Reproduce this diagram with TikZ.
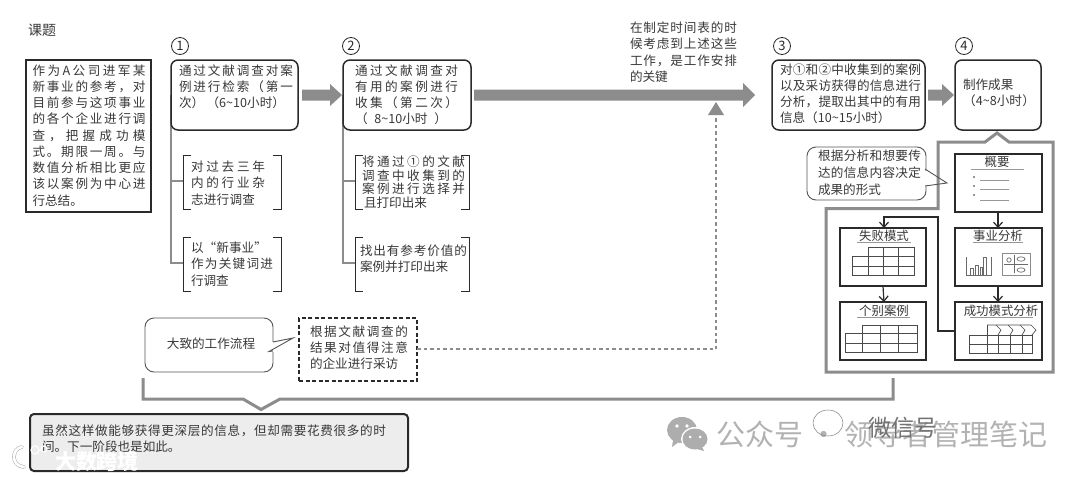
\documentclass[tikz,border=0pt]{standalone}
\usepackage{fontspec}
\newfontfamily\cjk{Noto Sans CJK SC}
\usetikzlibrary{arrows.meta}
\definecolor{ink}{HTML}{2A2A2A}
\definecolor{txt}{HTML}{383838}
\definecolor{band}{HTML}{8C8C8C}
\tikzset{
 every node/.style={inner sep=0pt,outer sep=0pt},
 txtblock/.style={anchor=north west,align=left,text=txt,font=\cjk\fontsize{12.6}{16.25}\selectfont},
 tightblock/.style={anchor=north west,align=left,text=txt,font=\cjk\fontsize{12.6}{13.6}\selectfont},
 stepbox/.style={draw=ink,line width=1.5pt,rounded corners=7pt,fill=white},
 num/.style={circle,draw=ink,line width=.8pt,minimum size=17pt,font=\cjk\fontsize{13}{13}\selectfont,text=ink},
 trunk/.style={draw=band,line width=1.8pt},
 brk/.style={draw=ink,line width=1pt},
 frameband/.style={draw=band,line width=3pt,miter limit=10},
 minibox/.style={draw=ink,line width=1.1pt,fill=white},
 minititle/.style={font=\cjk\fontsize{12.4}{13}\selectfont,text=txt},
 ul/.style={draw=band!90,line width=.8pt},
 tbl/.style={draw=ink!85,line width=.7pt},
 miniarrow/.style={draw=ink,line width=1.2pt,-{Straight Barb[length=5pt,width=9pt]}},
 callout/.style={draw=ink!80,line width=.9pt,fill=white,rounded corners=9pt},
}
\makeatletter
\newcommand{\jl}[2]{\makebox[#1pt][s]{\@tfor\jltok:=#2\do{\jltok\hfil}\unskip}}
\makeatother
\newcommand{\fatarrow}[5]{% x1 x2 xhead y halfhead
 \fill[band] (#1,#4-5.5) -- (#3,#4-5.5) -- (#3,#4-#5) -- (#2,#4) -- (#3,#4+#5) -- (#3,#4+5.5) -- (#1,#4+5.5) -- cycle;}
\newcommand{\bracketpair}[5]{% left right top bottom tick
 \draw[brk] (#1+#5,#3) -- (#1,#3) -- (#1,#4) -- (#1+#5,#4);
 \draw[brk] (#2-#5,#3) -- (#2,#3) -- (#2,#4) -- (#2-#5,#4);}
\begin{document}
\begin{tikzpicture}[x=1pt,y=-1pt]
\useasboundingbox (0,0) rectangle (1080,477);
\fill[white] (0,0) rectangle (1080,477);

\node[txtblock,font=\cjk\fontsize{14}{14}\selectfont] (title) at (28,24) {课题};

% task
\node[draw=ink,line width=2pt,minimum width=125pt,minimum height=152pt,anchor=north west] (task) at (26,60) {};
\node[txtblock] at (32.5,64.5) {\jl{113}{作为A公司进军某}\\\jl{113}{新事业的参考，对}\\\jl{113}{目前参与这项事业}\\\jl{113}{的各个企业进行调}\\\jl{113}{查，把握成功模}\\\jl{113}{式。期限一周。与}\\\jl{113}{数值分析相比更应}\\\jl{113}{该以案例为中心进}\\行总结。};

% trunks
\coordinate (t1) at (171,95); \coordinate (t2) at (343,95);
\draw[trunk] (t1) -- (171,263) -- (183,263);
\draw[trunk] (171,181) -- (183,181);
\draw[trunk] (t2) -- (343,263) -- (355,263);
\draw[trunk] (343,181) -- (355,181);

% steps
\node[stepbox,minimum width=127pt,minimum height=70pt,anchor=north west] (s1) at (171,60) {};
\node[stepbox,minimum width=128pt,minimum height=70pt,anchor=north west] (s2) at (343,60) {};
\node[stepbox,minimum width=153pt,minimum height=70pt,anchor=north west] (s3) at (772,60) {};
\node[stepbox,minimum width=86pt,minimum height=70pt,anchor=north west] (s4) at (955,60) {};
\node[num] (n1) at (180,46) {1};
\node[num] (n2) at (351,46) {2};
\node[num] (n3) at (782,46) {3};
\node[num] (n4) at (964,46) {4};

\node[txtblock] at (179,64.5) {\jl{114}{通过文献调查对案}\\\jl{114}{例进行检索（第一}\\\makebox[106pt][s]{次）\hfil（6\textasciitilde10小时）}};
\node[txtblock] at (355,64.5) {\jl{103}{通过文献调查对}\\\jl{103}{有用的案例进行}\\\jl{103}{收集（第二次）}\\\makebox[92pt][s]{（\hfil 8\textasciitilde10小时\hfil）}};
\node[txtblock] at (780,63.5) {\jl{141}{对①和②中收集到的案例}\\\jl{141}{以及采访获得的信息进行}\\\jl{141}{分析，提取出其中的有用}\\信息（10\textasciitilde15小时）};
\node[txtblock] at (963,79) {制作成果\\\makebox[72pt][s]{（\hfil 4\textasciitilde8小时\hfil）}};

% flow arrows
\fatarrow{302}{342}{330}{95}{11}
\fatarrow{474}{755}{743}{95}{12}
\fatarrow{928}{954}{942}{95}{11}
\node[txtblock] at (630,22) {\jl{107}{在制定时间表的时}\\\jl{107}{候考虑到上述这些}\\\jl{107}{工作，是工作安排}\\的关键};

% sub tasks
\bracketpair{183}{281}{155}{209}{8}
\bracketpair{183}{281}{237}{291}{8}
\bracketpair{355}{469}{155}{209}{8}
\bracketpair{355}{469}{237}{291}{8}
\node[txtblock] at (191,161) {\jl{74}{对过去三年}\\\jl{74}{内的行业杂}\\\jl{64}{志进行调查}};
\node[txtblock] at (191,242) {\jl{76}{以“新事业”}\\\jl{82}{作为关键词进}\\行调查};
\node[tightblock] at (362,156) {\jl{103}{将通过①的文献}\\\jl{103}{调查中收集到的}\\\jl{103}{案例进行选择并}\\\hspace*{2pt}且打印出来};
\node[txtblock] at (360,244.5) {\jl{107}{找出有参考价值的}\\案例并打印出来};

% callout + dashed
\node[callout,minimum width=128pt,minimum height=54pt,anchor=north west] (flow) at (145,318) {};
\fill[white] (272,342) rectangle (274.5,352);
\draw[ink!80,line width=.9pt] (273,342) -- (293,338) -- (269,351.5) -- (273,351);
\node[anchor=center,text=txt,font=\cjk\fontsize{12.6}{14}\selectfont] at (211,344) {大致的工作流程};
\node[draw=ink,line width=1.6pt,dash pattern=on 4pt off 2.5pt,minimum width=118pt,minimum height=63pt,anchor=north west] (visit) at (299,318) {};
\node[txtblock] at (310,325.5) {\jl{98}{根据文献调查的}\\\jl{98}{结果对值得注意}\\的企业进行采访};
\coordinate (up) at (716,349);
\draw[band,line width=2.2pt,dash pattern=on 3.5pt off 3pt] (visit.east |- up) -- (up) -- (716,114);
\fill[band] (716,102) -- (724,115) -- (708,115) -- cycle;

% bottom band + note
\draw[frameband] (143,378) -- (143,399) -- (243,399) -- (261,409.5) -- (280,399) -- (893,399) -- (893,378);
\node[draw=ink,line width=2pt,fill=black!7,rounded corners=4pt,minimum width=378pt,minimum height=57pt,anchor=north west] (note) at (30,414) {};
\node[txtblock] at (42,425) {\jl{344}{虽然这样做能够获得更深层的信息，但却需要花费很多的时}\\间。下一阶段也是如此。};

% right frame
\draw[frameband] (938,208.5) -- (938,142) -- (985,142) -- (997,133) -- (1009,142) -- (1053,142) -- (1053,372) -- (826,372) -- (826,208.5) -- cycle;

% right callout
\node[callout,minimum width=119pt,minimum height=53pt,anchor=north west] (shape) at (807,147) {};
\fill[white] (924,171) rectangle (928,186);
\draw[ink!80,line width=.9pt] (925,169) -- (947,183) -- (925,186);
\node[txtblock,font=\cjk\fontsize{12.6}{17}\selectfont] at (818,150) {\jl{103}{根据分析和想要传}\\\jl{103}{达的信息内容决定}\\成果的形式};

% mini boxes
\node[minibox,minimum width=87pt,minimum height=58pt,anchor=north west] (m0) at (955,154) {};
\node[minibox,minimum width=87pt,minimum height=58pt,anchor=north west] (m1) at (955,228) {};
\node[minibox,minimum width=87pt,minimum height=58pt,anchor=north west] (m2) at (955,302) {};
\node[minibox,minimum width=86pt,minimum height=58pt,anchor=north west] (m3) at (840,228) {};
\node[minibox,minimum width=86pt,minimum height=58pt,anchor=north west] (m4) at (840,302) {};
\node[minititle] at (997,162) {概要};
\node[minititle] at (998,236) {事业分析};
\node[minititle] at (1001,311) {成功模式分析};
\node[minititle] at (884,236) {失败模式};
\node[minititle] at (884,311) {个别案例};
\draw[ul] (971,169) -- (1024,169);
\draw[ul] (973,242) -- (1023,242);
\draw[ul] (970,317) -- (1033,317);
\draw[ul] (857,242) -- (911,242);
\draw[ul] (857,317) -- (910,317);

\draw[miniarrow] (m0.south -| 998,0) -- (998,228);
\draw[miniarrow] (m1.south -| 998,0) -- (998,302);
\draw[miniarrow] (m3) ++(0,29) -- (884,302);
\draw[miniarrow] (m2.west |- 0,331) -- (938,331) -- (938,217) -- (884,217) -- (884,228);

% outline glyphs
\foreach \yy in {177,186,195} \fill[ink] (974,\yy) circle (.9pt);
\foreach \yy in {180,189,200} \draw[ul] (980,\yy) -- (1009,\yy);

% tables
\draw[tbl] (852,256) rectangle (914,275);
\draw[tbl] (852,266) -- (914,266);
\draw[tbl] (868,247) rectangle (914,275);
\draw[tbl] (883,247) -- (883,275) (898,247) -- (898,275);

\draw[tbl] (845,333) rectangle (917,352);
\draw[tbl] (845,343) -- (917,343);
\draw[tbl] (862,325) rectangle (917,352);
\draw[tbl] (880,325) -- (880,352) (898,325) -- (898,352);

\draw[tbl] (969,335) rectangle (1032,353);
\draw[tbl] (969,344) -- (1032,344);
\draw[tbl] (987,325) -- (987,353) (998,335) -- (998,353) (1010,335) -- (1010,353) (1022,335) -- (1022,353);
\draw[tbl] (987,325) -- (996,325) -- (1001,330) -- (998,335);
\draw[tbl] (996,325) -- (1008,325) -- (1013,330) -- (1010,335);
\draw[tbl] (1008,325) -- (1020,325) -- (1025,330) -- (1022,335);
\draw[tbl] (1020,325) -- (1031,325) -- (1036,330) -- (1032,335);

% charts
\draw[tbl,draw=ink!70] (966,257) -- (966,275) -- (991,275) -- (991,257);
\draw[tbl,draw=ink!70] (970,275) -- (970,268) -- (973,268) -- (973,275) (975,275) -- (975,265) -- (978,265) -- (978,275) (980,275) -- (980,267) -- (982,267) -- (982,275) (983,275) -- (983,257) -- (986,257) -- (986,275);
\draw[draw=band,line width=1pt] (1002,253) rectangle (1030,275);
\draw[tbl,draw=ink!70] (1004,264) -- (1028,264) (1014,255) -- (1014,273);
\draw[tbl,draw=ink!70] (1009,260) circle (2.2pt) (1021,259) ellipse (4pt and 2.2pt) (1021,270) ellipse (4pt and 2.2pt);

% watermarks
\fill[black!32] (682,430) ellipse (15pt and 13pt);
\fill[black!32] (673,440) -- (672,447) -- (680,441) -- cycle;
\fill[white] (695,439) ellipse (14pt and 12pt);
\fill[black!32] (695,439) ellipse (12.5pt and 10.5pt);
\fill[black!32] (702,447) -- (704,451) -- (697,449) -- cycle;
\fill[white] (677,426) circle (1.8pt) (687,426) circle (1.8pt) (690,437) circle (1.5pt) (700,437) circle (1.5pt);
\node[anchor=west,text=black!30,font=\cjk\fontsize{29}{29}\selectfont] at (716,434) {公众号 · 领导者管理笔记};
\draw[ink!60,line width=.5pt] (828,423) ellipse (15pt and 13pt);
\node[anchor=west,text=black!55,font=\cjk\fontsize{23}{23}\selectfont] at (868,428) {微信号};
\node[anchor=west,text=white,font=\cjk\bfseries\fontsize{21}{21}\selectfont] at (55,461) {大数跨境};
\draw[black!35,line width=3.6pt,line cap=round] (22,447) .. controls (12,448) and (10,466) .. (24,467);
\draw[white,line width=2.6pt,line cap=round] (22,447) .. controls (12,448) and (10,466) .. (24,467);
\draw[white,line width=1.2pt] (35,450) circle (4pt) (44,449) circle (3pt);
\end{tikzpicture}
\end{document}
